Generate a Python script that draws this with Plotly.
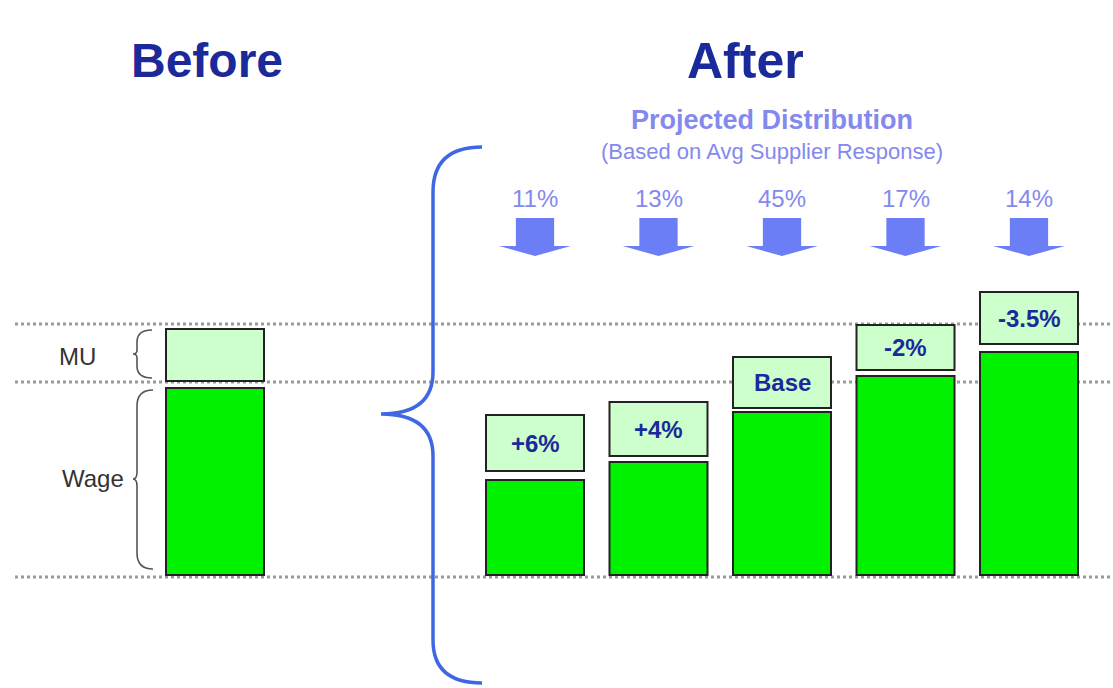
import plotly.graph_objects as go

# ---------------- data ----------------
before_label = ["Before"]
before_wage = [187]
before_gap = [7]
before_mu = [52]

after_labels = ["+6%", "+4%", "Base", "-2%", "-3.5%"]
after_wage = [95, 113, 163, 199, 223]
after_gap = [9, 6, 4, 6, 8]
after_mu = [56, 54, 51, 45, 52]

distribution = ["11%", "13%", "45%", "17%", "14%"]

# ---------------- style / layout constants ----------------
W, H = 1113, 688
GREEN = "#00f200"
LIGHT = "#ccffcc"
EDGE = "#222222"
NAVY = "#1b2a9a"
LAV = "#8489ee"
ARROW = "#6b7ef6"
BRACE = "#3f67e4"
FONT = "Liberation Sans, Arial, sans-serif"
BAR_W = 0.7935
guide_levels = [251, 193, -2]


def px(x):
    return x / W


def py(y):
    return 1 - y / H


fig = go.Figure()

# Before bars
fig.add_trace(go.Bar(x=[0], y=before_wage, base=[0], width=BAR_W,
                     marker=dict(color=GREEN, line=dict(color=EDGE, width=2)),
                     xaxis="x", yaxis="y", hoverinfo="skip"))
mu_base_b = [w + g for w, g in zip(before_wage, before_gap)]
fig.add_trace(go.Bar(x=[0], y=before_mu, base=mu_base_b, width=BAR_W,
                     marker=dict(color=LIGHT, line=dict(color=EDGE, width=2)),
                     xaxis="x", yaxis="y", hoverinfo="skip"))

# After bars
idx = list(range(len(after_labels)))
fig.add_trace(go.Bar(x=idx, y=after_wage, base=[0] * len(idx), width=BAR_W,
                     marker=dict(color=GREEN, line=dict(color=EDGE, width=2)),
                     xaxis="x2", yaxis="y", hoverinfo="skip"))
mu_base_a = [w + g for w, g in zip(after_wage, after_gap)]
fig.add_trace(go.Bar(x=idx, y=after_mu, base=mu_base_a, width=BAR_W,
                     marker=dict(color=LIGHT, line=dict(color=EDGE, width=2)),
                     xaxis="x2", yaxis="y", hoverinfo="skip"))

annotations = []
shapes = []


def txt(x, y, text, size, color, xref="paper", yref="paper"):
    return dict(x=x, y=y, xref=xref, yref=yref, text=text, showarrow=False,
                xanchor="center", yanchor="middle",
                font=dict(family=FONT, size=size, color=color))


# labels inside MU boxes
for i, lab in enumerate(after_labels):
    annotations.append(txt(i, mu_base_a[i] + after_mu[i] / 2, f"<b>{lab}</b>", 24, NAVY,
                           xref="x2", yref="y"))

# distribution percentages and arrows
for i, p in enumerate(distribution):
    annotations.append(txt(i, py(199), p, 24, LAV, xref="x2"))
    sw, hw = 0.155, 0.29
    y0, y1, y2 = py(218), py(246), py(256)
    path = (f"M {i - sw},{y0} L {i + sw},{y0} L {i + sw},{y1} L {i + hw},{y1} "
            f"L {i},{y2} L {i - hw},{y1} L {i - sw},{y1} Z")
    shapes.append(dict(type="path", path=path, xref="x2", yref="paper",
                       fillcolor=ARROW, line=dict(width=0), layer="above"))

# guide dotted lines
for g in guide_levels:
    shapes.append(dict(type="line", xref="paper", yref="y", x0=px(15), x1=1,
                       y0=g, y1=g, line=dict(color="#9a9a9a", width=3, dash="dot"),
                       layer="below"))


def brace_path(pts_cmds):
    out = []
    for cmd, pts in pts_cmds:
        out.append(cmd + " " + " ".join(f"{px(x)},{py(y)}" for x, y in pts))
    return " ".join(out)


big = brace_path([
    ("M", [(482, 147)]), ("Q", [(433, 147), (433, 192)]), ("L", [(433, 372)]),
    ("Q", [(433, 414), (381, 414)]), ("Q", [(433, 414), (433, 456)]),
    ("L", [(433, 640)]), ("Q", [(433, 683), (482, 683)]),
])
shapes.append(dict(type="path", path=big, xref="paper", yref="paper",
                   line=dict(color=BRACE, width=3.5)))

mu_b = brace_path([
    ("M", [(152, 330)]), ("Q", [(137, 330), (137, 342)]), ("L", [(137, 350)]),
    ("Q", [(137, 354), (133, 354)]), ("Q", [(137, 354), (137, 358)]),
    ("L", [(137, 366)]), ("Q", [(137, 378), (152, 378)]),
])
wage_b = brace_path([
    ("M", [(153, 390)]), ("Q", [(137, 390), (137, 406)]), ("L", [(137, 472)]),
    ("Q", [(137, 479), (133, 479)]), ("Q", [(137, 479), (137, 486)]),
    ("L", [(137, 553)]), ("Q", [(137, 569), (153, 569)]),
])
for pth in (mu_b, wage_b):
    shapes.append(dict(type="path", path=pth, xref="paper", yref="paper",
                       line=dict(color="#555555", width=1.6)))

# titles and side labels
annotations += [
    txt(px(207), py(60), "<b>Before</b>", 48, NAVY),
    txt(px(745), py(61), "<b>After</b>", 50, NAVY),
    txt(px(772), py(120), "<b>Projected Distribution</b>", 27, LAV),
    txt(px(772), py(152), "(Based on Avg Supplier Response)", 22, LAV),
    txt(px(77), py(356), "MU", 24, "#333333"),
    txt(px(93), py(478), "Wage", 24, "#333333"),
]

fig.update_layout(
    width=W, height=H, margin=dict(l=0, r=0, t=0, b=0),
    paper_bgcolor="white", plot_bgcolor="white",
    barmode="overlay", showlegend=False,
    xaxis=dict(domain=[px(153.25), px(276.75)], range=[-0.5, 0.5], visible=False,
               anchor="y", fixedrange=True),
    xaxis2=dict(domain=[px(473.25), px(1090.75)], range=[-0.5, 4.5], visible=False,
                anchor="y", fixedrange=True),
    yaxis=dict(domain=[0, 1], range=[-113, 575], visible=False, fixedrange=True),
    annotations=annotations, shapes=shapes,
)

fig.write_html("out.html")
